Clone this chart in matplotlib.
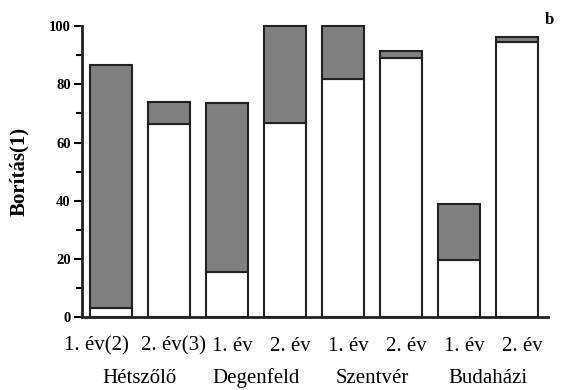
import matplotlib
matplotlib.use("Agg")
import matplotlib.pyplot as plt
import matplotlib.transforms as mtransforms
import numpy as np

sites = ["Hétszőlő", "Degenfeld", "Szentvér", "Budaházi"]
tick_labels = ["1. év(2)", "2. év(3)", "1. év", "2. év", "1. év", "2. év", "1. év", "2. év"]
white_part = [3.0, 66.4, 15.4, 66.7, 81.7, 88.9, 19.5, 94.6]
total = [86.8, 73.9, 73.7, 99.9, 100.0, 91.3, 38.9, 96.2]

plt.rcParams['font.family'] = ['Liberation Serif', 'DejaVu Serif']

fig = plt.figure(figsize=(5.73, 3.9), dpi=100)
ax = fig.add_axes([0.143, 0.187, 0.813, 0.746])

x = np.arange(len(total))
gray = np.array(total) - np.array(white_part)
ax.bar(x, white_part, width=0.71, color="white", edgecolor="#222222", linewidth=1.5, clip_on=False, zorder=3)
ax.bar(x, gray, bottom=white_part, width=0.71, color="#808080", edgecolor="#222222", linewidth=1.5, clip_on=False, zorder=3)

ax.set_xlim(-0.5, len(total) - 1 + 0.53)
ax.set_ylim(0, 100)
ax.spines['top'].set_visible(False)
ax.spines['right'].set_visible(False)
for sp in ('left', 'bottom'):
    ax.spines[sp].set_linewidth(2)
    ax.spines[sp].set_color("#222222")

ax.set_yticks([0, 20, 40, 60, 80, 100])
ax.set_yticks([10, 30, 50, 70, 90], minor=True)
ax.tick_params(axis='y', which='major', length=6, width=1.5, direction='out', labelsize=10.5, pad=2)
ax.tick_params(axis='y', which='minor', length=4, width=1.5, direction='out')
for lab in ax.get_yticklabels():
    lab.set_fontweight('bold')

ax.set_xticks(x)
ax.set_xticklabels(tick_labels, fontsize=15)
ax.tick_params(axis='x', length=0, pad=14)
for i, lab in enumerate(ax.get_xticklabels()):
    dx = -15 if i == 0 else 5
    lab.set_transform(lab.get_transform() + mtransforms.ScaledTranslation(dx / 100, 0, fig.dpi_scale_trans))

ax.set_ylabel("Borítás(1)", fontsize=15, fontweight='bold', labelpad=14)

for i, s in enumerate(sites):
    ax.text(2 * i + 0.5, -0.21, s, transform=ax.get_xaxis_transform(), ha='center', va='center', fontsize=15)

fig.text(0.958, 0.948, "b", ha='center', va='center', fontsize=12, fontweight='bold')

fig.savefig("out.png", dpi=100)
